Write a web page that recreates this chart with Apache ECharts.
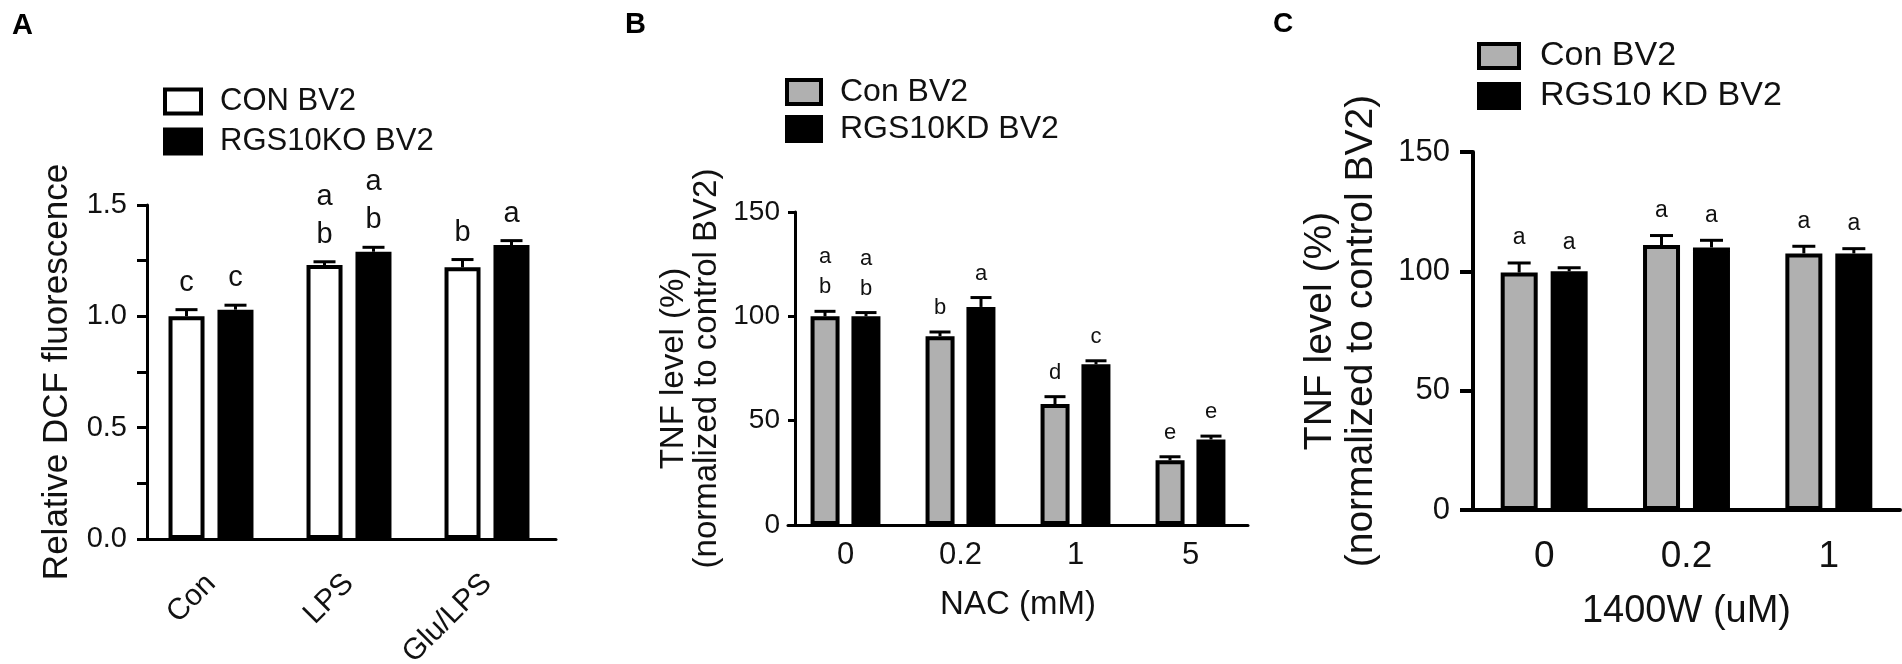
<!DOCTYPE html>
<html>
<head>
<meta charset="utf-8">
<script src="https://cdn.jsdelivr.net/npm/echarts@6/dist/echarts.min.js"></script>
<style>
  html, body { margin: 0; padding: 0; background: #fff; }
  #main { width: 1902px; height: 664px; }
</style>
</head>
<body>
<div id="main"></div>
<script>
// panel A: DCF fluorescence
var catA = ["Con", "LPS", "Glu/LPS"];
var conA = [1.0, 1.23, 1.22];
var conAErr = [0.03, 0.015, 0.035];
var koA = [1.03, 1.29, 1.32];
var koAErr = [0.02, 0.02, 0.02];
var lettersConA = ["c", "a\nb", "b"];
var lettersKoA = ["c", "a\nb", "a"];

// panel B: NAC
var catB = ["0", "0.2", "1", "5"];
var conB = [100, 90.5, 58, 31];
var conBErr = [2.4, 2, 3.5, 1.7];
var kdB = [100, 104.5, 77, 41];
var kdBErr = [1.8, 4.5, 1.7, 1.6];
var lettersConB = ["a\nb", "b", "d", "e"];
var lettersKdB = ["a\nb", "a", "c", "e"];

// panel C: 1400W
var catC = ["0", "0.2", "1"];
var conC = [99.5, 111, 107.5];
var conCErr = [4, 4, 3];
var kdC = [100, 110, 107.5];
var kdCErr = [1.5, 3, 2];
var lettersConC = ["a", "a", "a"];
var lettersKdC = ["a", "a", "a"];

var FONT = "Liberation Sans, Arial, sans-serif";
var INK = "#111";

var chart = echarts.init(document.getElementById("main"));

function errSeries(name, x, values, errs, letters, opt) {
  return {
    name: name + " err",
    type: "custom",
    xAxisIndex: x,
    yAxisIndex: x,
    z: 5,
    silent: true,
    encode: { x: 0, y: 1 },
    data: values.map(function (v, i) { return [i, v, errs[i]]; }),
    renderItem: function (params, api) {
      var base = api.coord([api.value(0), api.value(1)]);
      var top = api.coord([api.value(0), api.value(1) + api.value(2)]);
      var cx = base[0] + opt.offset;
      return {
        type: "group",
        children: [
          { type: "line", shape: { x1: cx, y1: base[1], x2: cx, y2: top[1] },
            style: { stroke: "#000", lineWidth: 3 } },
          { type: "line", shape: { x1: cx - opt.cap / 2, y1: top[1], x2: cx + opt.cap / 2, y2: top[1] },
            style: { stroke: "#000", lineWidth: 3 } },
          { type: "text", x: cx, y: top[1] - opt.gap,
            style: { text: letters[params.dataIndex], align: "center", verticalAlign: "bottom",
                     fontSize: opt.font, lineHeight: opt.lh, fontFamily: FONT, fill: INK } }
        ]
      };
    }
  };
}

function barSeries(name, x, values, color, width, gap) {
  return {
    name: name,
    type: "bar",
    xAxisIndex: x,
    yAxisIndex: x,
    barWidth: width,
    barGap: gap,
    data: values,
    itemStyle: { color: color, borderColor: "#000", borderWidth: 4 }
  };
}

function xAxisFor(idx, data, o) {
  return {
    type: "category",
    gridIndex: idx,
    data: data,
    name: o.name || "",
    nameLocation: "middle",
    nameGap: o.nameGap || 0,
    nameTextStyle: { fontSize: o.nameSize || 30, color: INK, fontFamily: FONT },
    axisLine: { lineStyle: { color: "#000", width: o.lw } },
    axisTick: { alignWithLabel: true, length: o.tick, lineStyle: { color: "#000", width: o.lw } },
    axisLabel: { fontSize: o.labelSize, color: INK, fontFamily: FONT, margin: o.margin, rotate: o.rotate || 0 }
  };
}

function yAxisFor(idx, o) {
  return {
    type: "value",
    gridIndex: idx,
    offset: o.offset || 0,
    min: 0,
    max: o.max,
    interval: o.interval,
    name: o.name,
    nameLocation: "middle",
    nameRotate: 90,
    nameGap: o.nameGap,
    nameTextStyle: { fontSize: o.nameSize, lineHeight: o.nameLh, color: INK, fontFamily: FONT, align: "center" },
    axisLine: { show: true, lineStyle: { color: "#000", width: o.lw } },
    axisTick: { show: true, length: o.tick, lineStyle: { color: "#000", width: o.lw } },
    axisLabel: { fontSize: o.labelSize, color: INK, fontFamily: FONT, margin: o.margin, formatter: o.formatter },
    splitLine: { show: false }
  };
}

function legendFor(names, o) {
  return {
    data: names,
    orient: "vertical",
    left: o.left,
    top: o.top,
    padding: 0,
    itemWidth: o.w,
    itemHeight: o.h,
    itemGap: o.gap,
    icon: "rect",
    selectedMode: false,
    itemStyle: { borderColor: "#000", borderWidth: 4 },
    textStyle: { fontSize: o.font, lineHeight: o.font, color: INK, fontFamily: FONT, padding: [0, 0, 0, o.pad] }
  };
}

var option = {
  animation: false,
  backgroundColor: "#fff",
  title: [
    { text: "A", left: 7, top: 6, textStyle: { fontSize: 29, fontWeight: "bold", color: "#000", fontFamily: FONT } },
    { text: "B", left: 620, top: 5, textStyle: { fontSize: 29, fontWeight: "bold", color: "#000", fontFamily: FONT } },
    { text: "C", left: 1268, top: 5, textStyle: { fontSize: 28, fontWeight: "bold", color: "#000", fontFamily: FONT } }
  ],
  legend: [
    legendFor(["CON BV2", "RGS10KO BV2"], { left: 163, top: 86, w: 36, h: 24, gap: 9, font: 31, pad: 14 }),
    legendFor(["Con BV2", "RGS10KD BV2"], { left: 785, top: 76, w: 34, h: 24, gap: 5, font: 32, pad: 14 }),
    legendFor(["Con BV2", "RGS10 KD BV2"], { left: 1477, top: 39, w: 40, h: 24, gap: 6, font: 34, pad: 16 })
  ],
  grid: [
    { left: 142, top: 205, width: 414, height: 334, outerBoundsMode: "none" },
    { left: 788, top: 212, width: 460, height: 313, outerBoundsMode: "none" },
    { left: 1473, top: 152, width: 427, height: 358, outerBoundsMode: "none" }
  ],
  xAxis: [
    xAxisFor(0, catA, { lw: 3, tick: 13, labelSize: 30, margin: 40, rotate: 45 }),
    xAxisFor(1, catB, { lw: 3, tick: 9, labelSize: 31, margin: 15, name: "NAC (mM)", nameGap: 63, nameSize: 33 }),
    xAxisFor(2, catC, { lw: 4, tick: 13, labelSize: 37, margin: 28, name: "1400W (uM)", nameGap: 83, nameSize: 38 })
  ],
  yAxis: [
    yAxisFor(0, { offset: -5, max: 1.5, interval: 0.25, lw: 3, tick: 10, labelSize: 29, margin: 20,
      name: "Relative DCF fluorescence", nameGap: 70, nameSize: 35, nameLh: 40,
      formatter: function (v) { return Math.round(v * 100) % 50 === 0 ? v.toFixed(1) : ""; } }),
    yAxisFor(1, { offset: -7, max: 150, interval: 50, lw: 3, tick: 7, labelSize: 28, margin: 15,
      name: "TNF level (%)\n(normalized to control BV2)", nameGap: 72, nameSize: 33, nameLh: 33 }),
    yAxisFor(2, { max: 150, interval: 50, lw: 4, tick: 13, labelSize: 31, margin: 23,
      name: "TNF level (%)\n(normalized to control BV2)", nameGap: 91, nameSize: 39, nameLh: 41 })
  ],
  series: [
    barSeries("CON BV2", 0, conA, "#fff", 36, "36%"),
    barSeries("RGS10KO BV2", 0, koA, "#000", 36, "36%"),
    errSeries("CON BV2", 0, conA, conAErr, lettersConA, { offset: -24.5, cap: 22, gap: 8, font: 29, lh: 38 }),
    errSeries("RGS10KO BV2", 0, koA, koAErr, lettersKoA, { offset: 24.5, cap: 22, gap: 8, font: 29, lh: 38 }),

    barSeries("Con BV2", 1, conB, "#b0b0b0", 29, "41%"),
    barSeries("RGS10KD BV2", 1, kdB, "#000", 29, "41%"),
    errSeries("Con BV2 B", 1, conB, conBErr, lettersConB, { offset: -20.5, cap: 21, gap: 9, font: 22, lh: 30 }),
    errSeries("RGS10KD BV2", 1, kdB, kdBErr, lettersKdB, { offset: 20.5, cap: 21, gap: 9, font: 22, lh: 30 }),

    barSeries("Con BV2", 2, conC, "#b0b0b0", 37, "35%"),
    barSeries("RGS10 KD BV2", 2, kdC, "#000", 37, "35%"),
    errSeries("Con BV2 C", 2, conC, conCErr, lettersConC, { offset: -25, cap: 23, gap: 10, font: 23, lh: 30 }),
    errSeries("RGS10 KD BV2", 2, kdC, kdCErr, lettersKdC, { offset: 25, cap: 23, gap: 10, font: 23, lh: 30 })
  ]
};

chart.setOption(option);
</script>
</body>
</html>
